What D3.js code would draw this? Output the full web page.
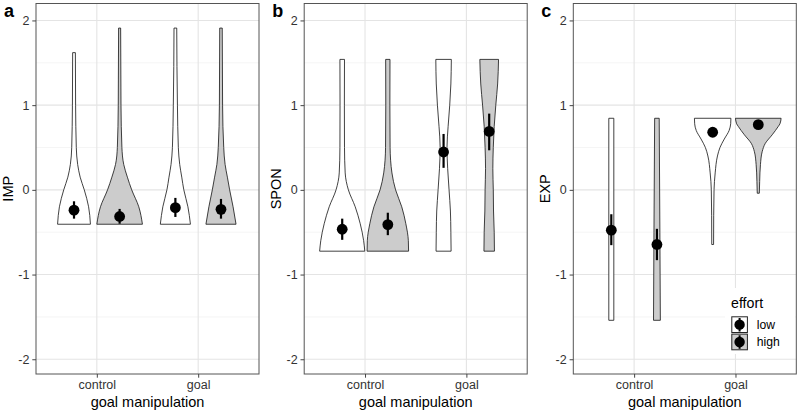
<!DOCTYPE html>
<html><head><meta charset="utf-8">
<script src="https://cdn.jsdelivr.net/npm/d3@7"></script>
<style>body{margin:0;background:#fff} svg{display:block} text{font-family:"Liberation Sans",Arial,sans-serif}</style>
</head><body><svg id="chart" width="800" height="413"></svg>
<script>
const panelLetters = ["a","b","c"];
const yTitles = ["IMP","SPON","EXP"];
const categories = ["control","goal"];
const efforts = ["low","high"];
const yTicks = [-2,-1,0,1,2];
const yMinor = [-1.5,-0.5,0.5,1.5];

// violin profiles [value, relative width]; order: control-low, control-high, goal-low, goal-high
const violinIMP = [
  [[-0.406,0.72],[-0.2,0.64],[0,0.45],[0.15,0.27],[0.3,0.16],[0.5,0.10],[1.0,0.07],[1.62,0.06]],
  [[-0.406,1.0],[-0.2,0.84],[0,0.53],[0.15,0.34],[0.3,0.18],[0.5,0.10],[1.0,0.06],[1.91,0.045]],
  [[-0.406,0.66],[-0.2,0.55],[0,0.37],[0.15,0.28],[0.3,0.19],[0.5,0.13],[1.0,0.09],[1.91,0.06]],
  [[-0.406,0.66],[-0.2,0.53],[0,0.38],[0.15,0.28],[0.3,0.18],[0.5,0.12],[1.0,0.07],[1.91,0.055]]
];
const violinSPON = [
  [[-0.724,0.99],[-0.6,0.94],[-0.4,0.79],[-0.2,0.57],[0,0.27],[0.2,0.13],[0.5,0.10],[1.0,0.095],[1.54,0.10]],
  [[-0.724,0.91],[-0.6,0.90],[-0.4,0.79],[-0.2,0.61],[0,0.34],[0.2,0.18],[0.5,0.10],[1.0,0.09],[1.54,0.095]],
  [[-0.724,0.33],[-0.5,0.32],[-0.25,0.30],[0,0.24],[0.25,0.18],[0.5,0.15],[0.75,0.20],[1.0,0.27],[1.25,0.32],[1.54,0.34]],
  [[-0.724,0.23],[-0.5,0.22],[-0.25,0.19],[0,0.18],[0.25,0.16],[0.5,0.18],[0.75,0.22],[1.0,0.29],[1.25,0.37],[1.54,0.41]]
];
const violinEXP = [
  [[-1.54,0.11],[0.845,0.11]],
  [[-1.54,0.15],[-0.5,0.13],[0.845,0.10]],
  [[-0.645,0.04],[-0.3,0.045],[0,0.06],[0.2,0.11],[0.4,0.21],[0.5,0.32],[0.6,0.51],[0.7,0.72],[0.78,0.79],[0.845,0.80]],
  [[-0.04,0.045],[0.1,0.06],[0.3,0.095],[0.45,0.17],[0.55,0.31],[0.65,0.61],[0.75,0.88],[0.78,0.95],[0.845,1.0]]
];

// means and error bar limits; same order
const meanIMP  = [-0.24,-0.314,-0.21,-0.23];
const lowerIMP = [-0.34,-0.40,-0.32,-0.34];
const upperIMP = [-0.135,-0.225,-0.095,-0.107];
const meanSPON  = [-0.465,-0.41,0.447,0.69];
const lowerSPON = [-0.59,-0.535,0.26,0.467];
const upperSPON = [-0.34,-0.27,0.66,0.90];
const meanEXP  = [-0.476,-0.645,0.68,0.77];
const lowerEXP = [-0.653,-0.83,0.63,0.72];
const upperEXP = [-0.288,-0.46,0.73,0.82];

const violins = [violinIMP, violinSPON, violinEXP];
const means = [meanIMP, meanSPON, meanEXP];
const lowers = [lowerIMP, lowerSPON, lowerEXP];
const uppers = [upperIMP, upperSPON, upperEXP];

const fills = {low:"#ffffff", high:"#cccccc"};
const svg = d3.select("#chart");
const panelLeft = [36, 304.2, 573.3];
const panelW = 223;
const plotTop = 3.5, plotBottom = 374;
const y = d3.scaleLinear().domain([-2.174, 2.2]).range([plotBottom, plotTop]);
const font = '"Liberation Sans", Arial, sans-serif';

panelLetters.forEach((letter, p) => {
  const L = panelLeft[p], R = L + panelW;
  const x = d3.scalePoint().domain(categories).range([L, R]).padding(0.6);
  const step = x.step();
  const dodge = 0.225 * step;
  const half = 0.225 * step;
  const g = svg.append("g");

  // grid
  g.selectAll(".minor").data(yMinor).join("line")
    .attr("x1", L).attr("x2", R).attr("y1", d => y(d)).attr("y2", d => y(d))
    .attr("stroke", "#efefef").attr("stroke-width", 0.7);
  g.selectAll(".major").data(yTicks).join("line")
    .attr("x1", L).attr("x2", R).attr("y1", d => y(d)).attr("y2", d => y(d))
    .attr("stroke", "#e4e4e4").attr("stroke-width", 1.1);
  g.selectAll(".vmajor").data(categories).join("line")
    .attr("x1", d => x(d)).attr("x2", d => x(d)).attr("y1", plotTop).attr("y2", plotBottom)
    .attr("stroke", "#e4e4e4").attr("stroke-width", 1.1);

  // violins
  const groups = [];
  categories.forEach(c => efforts.forEach((e, ei) => {
    groups.push({cat: c, effort: e, cx: x(c) + (ei === 0 ? -dodge : dodge)});
  }));
  groups.forEach((gr, i) => {
    const prof = violins[p][i];
    const area = d3.area()
      .y(d => y(d[0]))
      .x0(d => gr.cx - d[1] * half)
      .x1(d => gr.cx + d[1] * half)
      .curve(d3.curveMonotoneY);
    g.append("path").attr("d", area(prof))
      .attr("fill", fills[gr.effort]).attr("stroke", "#111").attr("stroke-width", 0.8)
      .attr("stroke-linejoin", "round");
  });
  // error bars and points
  groups.forEach((gr, i) => {
    g.append("line").attr("x1", gr.cx).attr("x2", gr.cx)
      .attr("y1", y(lowers[p][i])).attr("y2", y(uppers[p][i]))
      .attr("stroke", "#000").attr("stroke-width", 2.2);
    g.append("circle").attr("cx", gr.cx).attr("cy", y(means[p][i])).attr("r", 5.4).attr("fill", "#000");
  });

  // border
  g.append("rect").attr("x", L).attr("y", plotTop).attr("width", panelW).attr("height", plotBottom - plotTop)
    .attr("fill", "none").attr("stroke", "#555").attr("stroke-width", 1);

  // y axis
  const yAxis = d3.axisLeft(y).tickValues(yTicks).tickSize(3.7).tickPadding(2.9).tickFormat(d => String(d));
  const ya = g.append("g").attr("transform", `translate(${L},0)`).call(yAxis);
  ya.select(".domain").remove();
  ya.selectAll("line").attr("stroke", "#444");
  ya.selectAll("text").attr("font-size", 12.5).attr("fill", "#333").attr("font-family", font);

  // x axis
  const xAxis = d3.axisBottom(x).tickSize(3.7).tickPadding(2.9);
  const xa = g.append("g").attr("transform", `translate(0,${plotBottom})`).call(xAxis);
  xa.select(".domain").remove();
  xa.selectAll("line").attr("stroke", "#444");
  xa.selectAll("text").attr("font-size", 12.5).attr("fill", "#333").attr("font-family", font);

  // titles
  g.append("text").attr("x", (L + R) / 2).attr("y", 406.5).attr("text-anchor", "middle")
    .attr("font-size", 14.5).attr("fill", "#000").text("goal manipulation");
  const ytx = L - 28;
  g.append("text").attr("transform", `translate(${ytx},${(plotTop + plotBottom) / 2}) rotate(-90)`)
    .attr("text-anchor", "middle").attr("dy", "0.35em")
    .attr("font-size", 14.5).attr("fill", "#000").text(yTitles[p]);
  // panel letter
  g.append("text").attr("x", L - 32).attr("y", 17).attr("font-size", 18).attr("font-weight", "bold")
    .attr("fill", "#000").text(letter);
});

// legend in panel c
const lg = svg.append("g");
lg.append("rect").attr("x", 725).attr("y", 288).attr("width", 70).attr("height", 66).attr("fill", "#fff");
lg.append("text").attr("x", 731).attr("y", 308).attr("font-size", 14.2).attr("fill", "#000").text("effort");
efforts.forEach((e, i) => {
  const ky = 316 + i * 17.3;
  lg.append("rect").attr("x", 731.8).attr("y", ky + 0.8).attr("width", 15.6).attr("height", 15.7)
    .attr("fill", fills[e]).attr("stroke", "#222").attr("stroke-width", 1);
  lg.append("line").attr("x1", 739.6).attr("x2", 739.6).attr("y1", ky + 2).attr("y2", ky + 15.5)
    .attr("stroke", "#000").attr("stroke-width", 2);
  lg.append("circle").attr("cx", 739.6).attr("cy", ky + 8.65).attr("r", 5.2).attr("fill", "#000");
  lg.append("text").attr("x", 756.7).attr("y", ky + 13).attr("font-size", 12.2).attr("fill", "#000").text(e);
});
</script></body></html>
